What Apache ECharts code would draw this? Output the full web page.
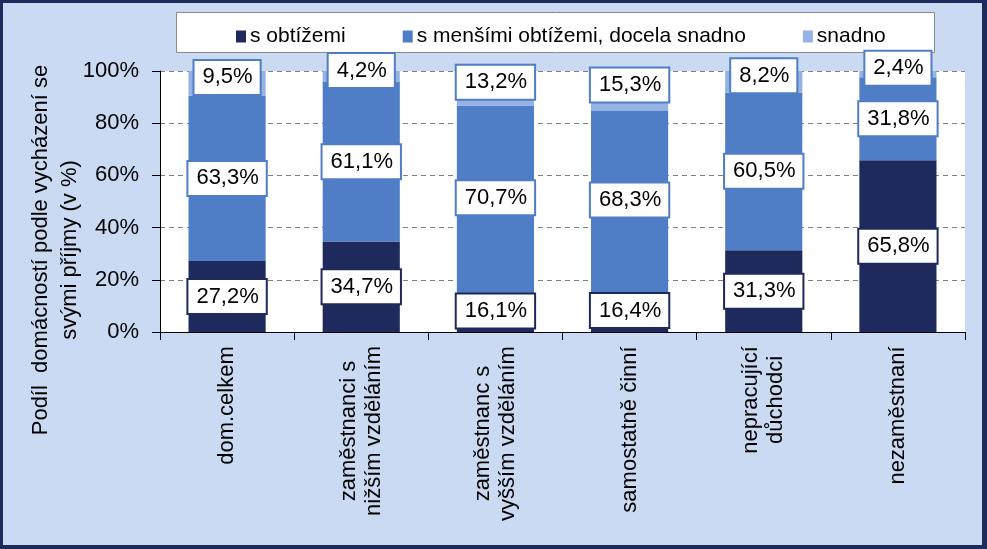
<!DOCTYPE html>
<html>
<head>
<meta charset="utf-8">
<script src="https://cdn.jsdelivr.net/npm/echarts@6/dist/echarts.min.js"></script>
<style>
html,body{margin:0;padding:0;background:#C9DAF2;}
#c{width:987px;height:549px;}
</style>
</head>
<body>
<div id="c"></div>
<script>
// ---- data ----
const categories = ['dom.celkem', 'zaměstnanci s\nnižším vzděláním', 'zaměstnanc s\nvyšším vzděláním', 'samostatně činní', 'nepracující\ndůchodci', 'nezaměstnaní'];
const seriesNames = ['s obtížemi', 's menšími obtížemi, docela snadno', 'snadno'];
// bar heights as drawn in the reference
const sObtizemi = [27.2, 34.7, 4.3, 2.0, 31.3, 65.8];
const sMensimi = [63.3, 61.1, 82.5, 82.7, 60.5, 31.8];
const snadno = [9.5, 4.2, 13.2, 15.3, 8.2, 2.4];
// values printed in the data labels
const labelObtizemi = [27.2, 34.7, 16.1, 16.4, 31.3, 65.8];
const labelMensimi = [63.3, 61.1, 70.7, 68.3, 60.5, 31.8];
const labelSnadno = [9.5, 4.2, 13.2, 15.3, 8.2, 2.4];
const yTicks = [0, 20, 40, 60, 80, 100];

// ---- styling ----
const FONT = '"Liberation Sans", Arial, sans-serif';
const NAVY = '#1F2A5C';
const MID = '#4F7EC6';
const LIGHT = '#94B3E2';
const W = 987, H = 549;

const fmt = v => v.toFixed(1).replace('.', ',') + '%';

// measure text widths for centered multi-line category labels
const cv = document.createElement('canvas').getContext('2d');
cv.font = '22px "Liberation Sans", Arial, sans-serif';
const rich = {};
categories.forEach((c, i) => {
  const w = Math.max(...c.split('\n').map(l => cv.measureText(l).width));
  rich['c' + i] = {width: Math.ceil(w) + 2, align: 'center', fontSize: 22, fontFamily: FONT, color: '#000', lineHeight: 25};
});

function labelSeries(name, data, border, offsetY) {
  return {
    name: name, type: 'scatter', symbolSize: 0, z: 10, silent: true,
    itemStyle: {opacity: 1},
    emphasis: {disabled: true},
    data: data,
    label: {
      show: true, position: 'inside', offset: [0, offsetY || 0],
      formatter: p => fmt(p.value[2]),
      fontSize: 22, fontFamily: FONT, color: '#000', opacity: 1,
      backgroundColor: '#fff', borderColor: border, borderWidth: 2,
      padding: [5, 7, 4, 8], lineHeight: 24
    }
  };
}

const darkLbl = labelObtizemi.map((v, i) => [i, v / 2, v]);
const midLbl = labelMensimi.map((v, i) => [i, labelObtizemi[i] + v / 2, v]);
const lightLbl = labelSnadno.map((v, i) => [i, 100 - v / 2, v]);

const chart = echarts.init(document.getElementById('c'), null, {renderer: 'canvas'});
chart.setOption({
  animation: false,
  backgroundColor: '#C9DAF2',
  textStyle: {fontFamily: FONT},
  graphic: [
    {type: 'rect', z: 0, shape: {x: 176.5, y: 12.5, width: 758, height: 40}, style: {fill: '#fff', stroke: '#8A8A8A', lineWidth: 1}},
    {type: 'text', z: 5, x: 55, y: 250, rotation: Math.PI / 2,
      style: {text: 'Podíl  domácností podle vycházení se\nsvými příjmy (v %)', font: '22px ' + FONT, fill: '#000',
        align: 'center', verticalAlign: 'middle', lineHeight: 29}},
    {type: 'rect', z: 100, shape: {x: 0, y: 0, width: W, height: 3}, style: {fill: NAVY}},
    {type: 'rect', z: 100, shape: {x: 0, y: 0, width: 3, height: H}, style: {fill: NAVY}},
    {type: 'rect', z: 100, shape: {x: W - 5, y: 0, width: 5, height: H}, style: {fill: NAVY}},
    {type: 'rect', z: 100, shape: {x: 0, y: H - 4, width: W, height: 4}, style: {fill: NAVY}}
  ],
  legend: {
    data: seriesNames, left: 231, top: 21, z: 10,
    icon: 'rect', itemWidth: 10, itemHeight: 12, itemGap: 57,
    textStyle: {fontSize: 21, fontFamily: FONT, color: '#000', padding: [0, 0, 0, -1]}
  },
  grid: {left: 160, right: 22, top: 71, bottom: 217, show: true, backgroundColor: '#fff', borderWidth: 0},
  xAxis: {
    type: 'category', data: categories,
    axisLine: {lineStyle: {color: '#000', width: 1}},
    axisTick: {show: true, length: 8, lineStyle: {color: '#000'}},
    axisLabel: {
      rotate: 90, margin: 13, interval: 0,
      formatter: (v, i) => v.split('\n').map(l => '{c' + i + '|' + l + '}').join('\n'),
      rich: rich, fontSize: 22, fontFamily: FONT, color: '#000'
    }
  },
  yAxis: {
    type: 'value', min: yTicks[0], max: yTicks[yTicks.length - 1], interval: 20,
    axisLine: {show: true, lineStyle: {color: '#000'}},
    axisTick: {show: true, length: 8, lineStyle: {color: '#000'}},
    axisLabel: {formatter: '{value}%', fontSize: 22, fontFamily: FONT, color: '#000', margin: 21},
    splitLine: {show: true, lineStyle: {color: '#808080', type: [5, 4], width: 1}}
  },
  series: [
    {name: seriesNames[0], type: 'bar', stack: 'a', data: sObtizemi, barWidth: '57.5%', itemStyle: {color: NAVY}},
    {name: seriesNames[1], type: 'bar', stack: 'a', data: sMensimi, itemStyle: {color: MID}},
    {name: seriesNames[2], type: 'bar', stack: 'a', data: snadno, itemStyle: {color: LIGHT}},
    labelSeries('lblDark', darkLbl, NAVY, 0),
    labelSeries('lblMid', midLbl, MID, 0),
    labelSeries('lblLight', lightLbl, MID, -6)
  ]
});
</script>
</body>
</html>
